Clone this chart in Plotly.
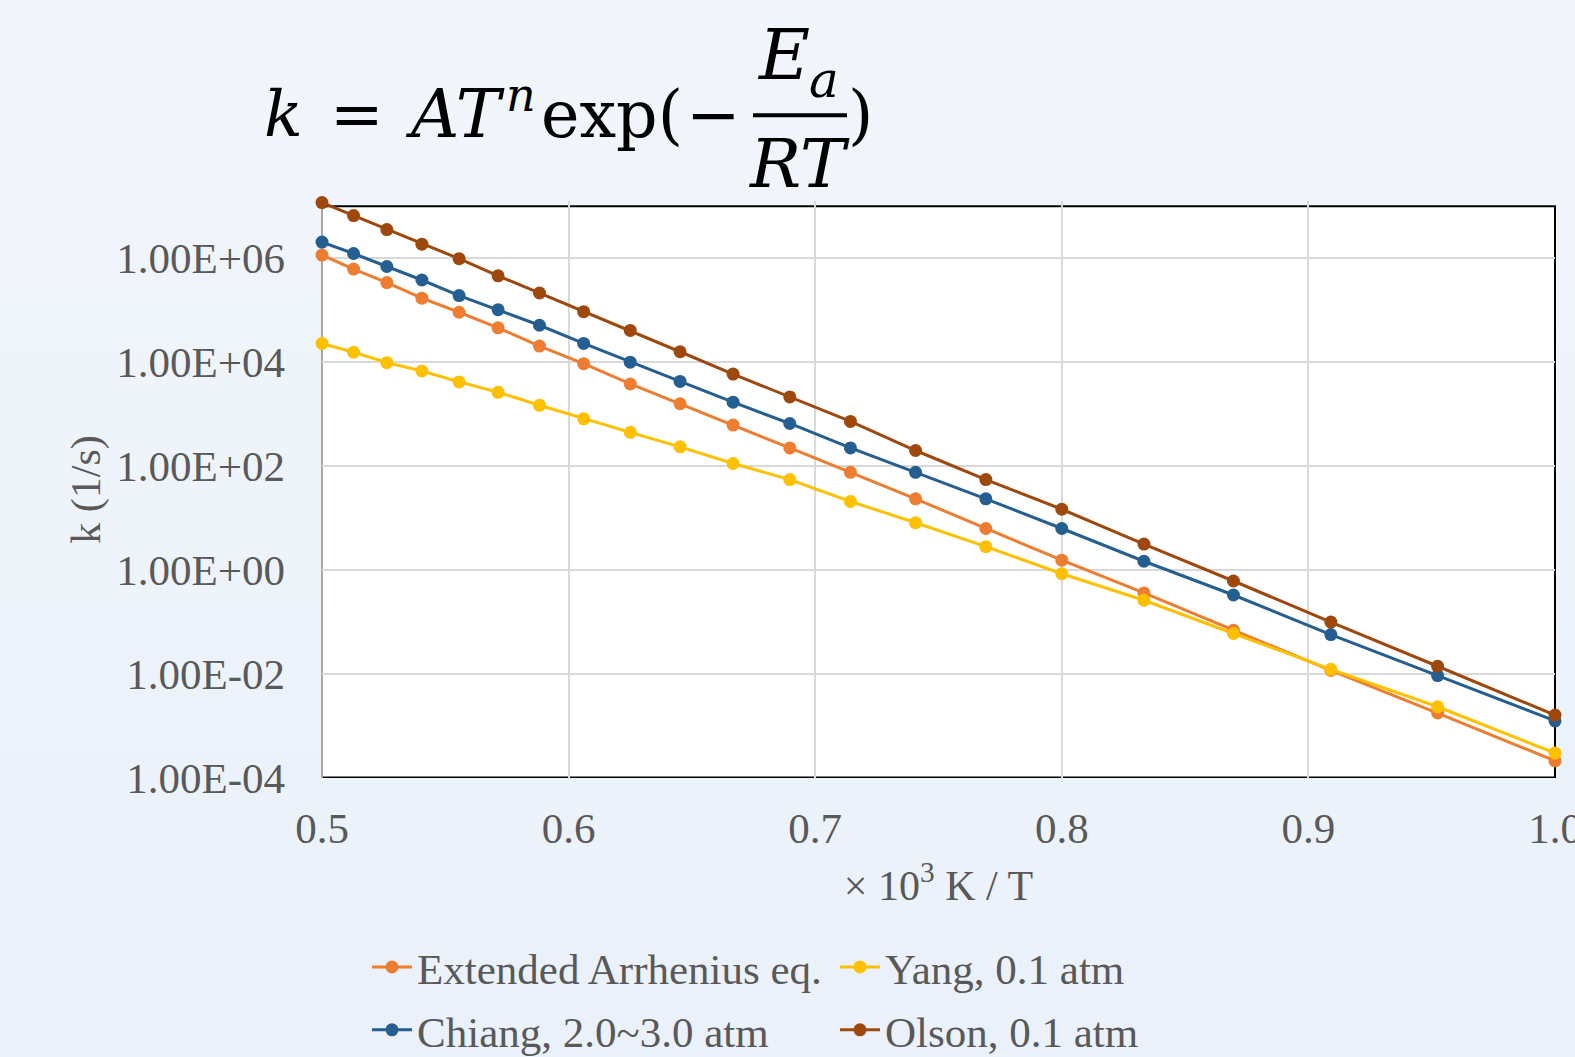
import plotly.graph_objects as go

# ---------------- data ----------------
x_inv_T = [0.5, 0.5128, 0.5263, 0.5405, 0.5556, 0.5714, 0.5882, 0.6061, 0.625, 0.6452,
           0.6667, 0.6897, 0.7143, 0.7407, 0.7692, 0.8, 0.8333, 0.8696, 0.9091, 0.9524, 1.0]

log10_k_extended = [6.06, 5.79, 5.53, 5.23, 4.96, 4.66, 4.31, 3.97, 3.58, 3.20, 2.79,
                    2.35, 1.88, 1.37, 0.80, 0.19, -0.44, -1.16, -1.93, -2.75, -3.67]
log10_k_yang = [4.36, 4.19, 3.99, 3.83, 3.62, 3.42, 3.17, 2.91, 2.65, 2.37, 2.05,
                1.74, 1.32, 0.91, 0.45, -0.07, -0.58, -1.22, -1.91, -2.63, -3.52]
log10_k_chiang = [6.31, 6.09, 5.84, 5.58, 5.28, 5.01, 4.71, 4.36, 4.00, 3.63, 3.23,
                  2.82, 2.35, 1.88, 1.37, 0.80, 0.17, -0.48, -1.24, -2.03, -2.90]
log10_k_olson = [7.07, 6.82, 6.55, 6.27, 5.99, 5.66, 5.33, 4.97, 4.61, 4.20, 3.77,
                 3.33, 2.86, 2.30, 1.74, 1.17, 0.50, -0.21, -1.00, -1.85, -2.79]

series_names = ["Extended Arrhenius eq.", "Yang, 0.1 atm", "Chiang, 2.0~3.0 atm", "Olson, 0.1 atm"]
series_colors = ["#ED7D31", "#FFC000", "#255E91", "#9E480E"]
series_logk = [log10_k_extended, log10_k_yang, log10_k_chiang, log10_k_olson]
series_legend = ["legend", "legend", "legend2", "legend2"]

y_tick_vals = [1e-4, 1e-2, 1e0, 1e2, 1e4, 1e6]
y_tick_text = ["1.00E-04", "1.00E-02", "1.00E+00", "1.00E+02", "1.00E+04", "1.00E+06"]
x_tick_vals = [0.5, 0.6, 0.7, 0.8, 0.9, 1.0]
x_tick_text = ["0.5", "0.6", "0.7", "0.8", "0.9", "1.0"]
y_min, y_max = 1e-4, 1e7

# ---------------- layout geometry ----------------
W, H = 1575, 1057
L, R, B = 322, 1555, 778
T = 206 - 0.1 * (778 - 206) / 11   # axis range extends 0.1 decade above the frame
def px(xp):
    return (xp - L) / (R - L)
def py(yp):
    return (B - yp) / (B - T)

SERIF = "Liberation Serif, Times New Roman, serif"
MATH = "DejaVu Serif, Cambria Math, serif"
GRAY = "#595959"

fig = go.Figure()
for name, color, lk, lg in zip(series_names, series_colors, series_logk, series_legend):
    fig.add_trace(go.Scatter(
        x=x_inv_T, y=[10 ** v for v in lk], name=name, mode="lines+markers",
        line=dict(color=color, width=3), marker=dict(color=color, size=13),
        cliponaxis=False, legend=lg,
    ))

shapes = [
    # white plot area (frame from 1e-4 to 1e7)
    dict(type="rect", xref="paper", yref="y", x0=0, x1=1, y0=y_min, y1=y_max,
         fillcolor="#FFFFFF", line=dict(width=0), layer="below"),
    dict(type="line", xref="paper", yref="y", x0=0, x1=1, y0=1, y1=1,
         line=dict(color="#BFBFBF", width=2), layer="between"),
    dict(type="rect", xref="paper", yref="y", x0=0, x1=1, y0=y_min, y1=y_max,
         line=dict(color="#000000", width=2), layer="between"),
    dict(type="line", xref="paper", yref="y", x0=0, x1=1, y0=y_min, y1=y_min,
         line=dict(color="#000000", width=3), layer="between"),
    dict(type="line", xref="paper", yref="y", x0=0, x1=0, y0=y_min, y1=y_max,
         line=dict(color="#A6A6A6", width=2), layer="between"),
    # fraction bar of the formula
    dict(type="line", xref="paper", yref="paper", x0=px(753), x1=px(847), y0=py(115), y1=py(115),
         line=dict(color="#000000", width=4)),
]

annotations = []
def add_text(text, xc, yc, size, family=MATH):
    annotations.append(dict(text=text, x=px(xc), y=py(yc), xref="paper", yref="paper",
                            xanchor="center", yanchor="middle", showarrow=False,
                            font=dict(family=family, size=size, color="#000000")))

add_text("<i>k</i>", 283, 114, 64)
add_text("=", 357, 114, 64)
add_text("<i>AT</i>", 455, 114, 67)
add_text("<i>n</i>", 521, 95, 46)
add_text("exp(", 612, 114, 65)
add_text("−", 713, 114, 65)
add_text("<i>E</i>", 783, 55, 70)
add_text("<i>a</i>", 824, 80, 50)
add_text("<i>RT</i>", 799, 163, 68)
add_text(")", 860, 114, 65)

legend_common = dict(orientation="h", xanchor="left", yanchor="middle",
                     entrywidth=413, entrywidthmode="pixels", bgcolor="rgba(0,0,0,0)",
                     font=dict(family=SERIF, size=43, color=GRAY), itemwidth=40)

fig.update_layout(
    width=W, height=H,
    margin=dict(l=L, r=W - R, t=T, b=H - B, autoexpand=False),
    paper_bgcolor="rgba(0,0,0,0)", plot_bgcolor="rgba(0,0,0,0)",
    showlegend=True,
    legend=dict(x=px(367), y=py(967), **legend_common),
    legend2=dict(x=px(367), y=py(1030), **legend_common),
    shapes=shapes, annotations=annotations,
)
fig.update_xaxes(range=[0.5, 1.0], tickvals=x_tick_vals, ticktext=x_tick_text,
                 showgrid=True, gridcolor="#D9D9D9", gridwidth=2, zeroline=False,
                 showline=False, ticks="", ticklabelstandoff=21, ticklabeloverflow="allow",
                 tickfont=dict(family=SERIF, size=43, color=GRAY),
                 title=dict(text="× 10<sup>3</sup> K / T", standoff=19,
                            font=dict(family=SERIF, size=42, color=GRAY)))
fig.update_yaxes(type="log", range=[-4, 7.1], tickvals=y_tick_vals, ticktext=y_tick_text,
                 showgrid=True, gridcolor="#D9D9D9", gridwidth=2, zeroline=False,
                 showline=False, ticks="", ticklabelstandoff=36,
                 tickfont=dict(family=SERIF, size=43, color=GRAY),
                 title=dict(text="k (1/s)", standoff=2,
                            font=dict(family=SERIF, size=42, color=GRAY)))

fig.write_html("out.html", config={"displayModeBar": False})

# remove the default page margin so the figure fills the window exactly
with open("out.html", "r", encoding="utf-8") as f:
    html = f.read()
css = ("<style>html,body{margin:0;padding:0;overflow:hidden;"
       "background:linear-gradient(180deg,#F2F6FB 0%,#EAF1FA 100%);}</style>")
html = html.replace("<head>", "<head>" + css, 1)
with open("out.html", "w", encoding="utf-8") as f:
    f.write(html)
